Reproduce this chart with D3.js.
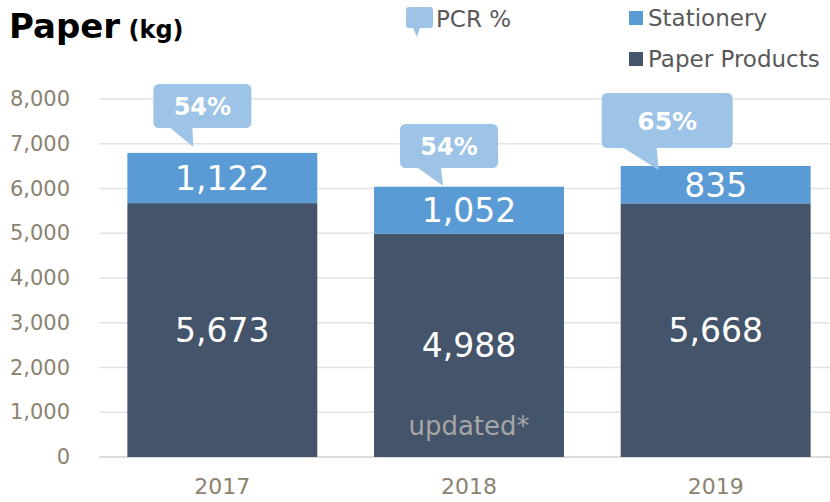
<!DOCTYPE html>
<html><head><meta charset="utf-8">
<script src="https://cdn.jsdelivr.net/npm/d3@7"></script>
<style>body{margin:0;background:#fff}svg{display:block}</style>
</head><body><svg id="c" width="830" height="502"></svg>
<script>
const years = ["2017","2018","2019"];
const paperProducts = [5673, 4988, 5668];
const stationery = [1122, 1052, 835];
const pcr = ["54%","54%","65%"];
const yTicks = [0,1000,2000,3000,4000,5000,6000,7000,8000];
const seriesNames = ["Stationery","Paper Products"];
const pcrLabel = "PCR %";
const note = "updated*";

const FONT = "'DejaVu Sans', sans-serif";
const cDark = "#44546A", cLight = "#5B9BD5", cBubble = "#9DC3E6", cAxis = "#8C8270";
const svg = d3.select("#c");

const x = d3.scaleBand().domain(years).range([99, 839]).paddingInner(0.23).paddingOuter(0.115);
const y = d3.scaleLinear().domain([0, 8000]).range([457, 99]);

// gridlines
svg.append("g").selectAll("line").data(yTicks).join("line")
  .attr("x1", 99).attr("x2", 830)
  .attr("y1", d => y(d)).attr("y2", d => y(d))
  .attr("stroke", d => d === 0 ? "#D0D0D0" : "#E3E3E3").attr("stroke-width", 1.5);

// y axis labels
const yAxis = d3.axisLeft(y).tickValues(yTicks).tickFormat(d3.format(",")).tickSize(0).tickPadding(0);
const ya = svg.append("g").attr("transform", "translate(70,0)").call(yAxis);
ya.select(".domain").remove();
ya.selectAll("text").attr("font-family", FONT).attr("font-size", 21).attr("fill", cAxis);

// x axis labels
const xAxis = d3.axisBottom(x).tickSize(0).tickPadding(0);
const xa = svg.append("g").attr("transform", "translate(0,478)").call(xAxis);
xa.select(".domain").remove();
xa.selectAll("text").attr("font-family", FONT).attr("font-size", 22).attr("fill", cAxis);

// bars
const data = years.map((yr, i) => ({yr, pp: paperProducts[i], st: stationery[i], pcr: pcr[i]}));
const g = svg.append("g");
g.selectAll(".pp").data(data).join("rect")
  .attr("x", d => x(d.yr)).attr("width", x.bandwidth())
  .attr("y", d => y(d.pp)).attr("height", d => y(0) - y(d.pp)).attr("fill", cDark);
g.selectAll(".st").data(data).join("rect")
  .attr("x", d => x(d.yr)).attr("width", x.bandwidth())
  .attr("y", d => y(d.pp + d.st)).attr("height", d => y(d.pp) - y(d.pp + d.st)).attr("fill", cLight);

// value labels
g.selectAll(".ppl").data(data).join("text")
  .attr("x", d => x(d.yr) + x.bandwidth()/2).attr("y", d => y(d.pp/2) + 12)
  .attr("text-anchor", "middle").attr("font-family", FONT).attr("font-size", 33).attr("fill", "#fff")
  .text(d => d3.format(",")(d.pp));
g.selectAll(".stl").data(data).join("text")
  .attr("x", d => x(d.yr) + x.bandwidth()/2).attr("y", d => y(d.pp + d.st/2) + 12)
  .attr("text-anchor", "middle").attr("font-family", FONT).attr("font-size", 33).attr("fill", "#fff")
  .text(d => d3.format(",")(d.st));

// note in 2018 bar
g.append("text").attr("x", x("2018") + x.bandwidth()/2).attr("y", 435)
  .attr("text-anchor", "middle").attr("font-family", FONT).attr("font-size", 26).attr("fill", "#A6A6A6")
  .text(note);

// bubbles (offsets relative to bar left/top)
const bubbleGeom = [
  {dx: 26, w: 98, top: 84, h: 44, t1: 17, t2: 39, tipx: 40, tipgap: 6, fs: 24},
  {dx: 26, w: 98, top: 124, h: 44, t1: 18, t2: 41, tipx: 43, tipgap: 1, fs: 24},
  {dx: -19, w: 131, top: 93, h: 55, t1: 22, t2: 55, tipx: 57, tipgap: -4, fs: 25}
];
function bubblePath(x0, y0, w, h, r, t1, t2, tx, ty) {
  return `M${x0+r},${y0} H${x0+w-r} Q${x0+w},${y0} ${x0+w},${y0+r} V${y0+h-r} Q${x0+w},${y0+h} ${x0+w-r},${y0+h}`
    + ` H${x0+t2} L${tx},${ty} L${x0+t1},${y0+h} H${x0+r} Q${x0},${y0+h} ${x0},${y0+h-r} V${y0+r} Q${x0},${y0} ${x0+r},${y0} Z`;
}
data.forEach((d, i) => {
  const b = bubbleGeom[i];
  const bx = x(d.yr) + b.dx;
  const tipY = y(d.pp + d.st) - b.tipgap;
  g.append("path").attr("d", bubblePath(bx, b.top, b.w, b.h, 6, b.t1, b.t2, bx + b.tipx, tipY)).attr("fill", cBubble);
  g.append("text").attr("x", bx + b.w/2).attr("y", b.top + b.h/2 + 9)
    .attr("text-anchor", "middle").attr("font-family", FONT).attr("font-weight", "bold")
    .attr("font-size", b.fs).attr("fill", "#fff").text(d.pcr);
});

// title
const t = svg.append("text").attr("x", 9).attr("y", 38).attr("font-family", FONT).attr("font-weight", "bold").attr("fill", "#000");
t.append("tspan").attr("font-size", 34).text("Paper");
t.append("tspan").attr("font-size", 24).text(" (kg)");

// legend
svg.append("path").attr("d", bubblePath(406, 7, 27, 21, 3, 7, 14, 417, 37)).attr("fill", cBubble);
svg.append("text").attr("x", 436).attr("y", 27).attr("font-family", FONT).attr("font-size", 23).attr("fill", "#595959").text(pcrLabel);
const legCols = [cLight, cDark];
seriesNames.forEach((n, i) => {
  svg.append("rect").attr("x", 629).attr("y", 11 + i*41).attr("width", 14).attr("height", 14).attr("fill", legCols[i]);
  svg.append("text").attr("x", 648).attr("y", 26 + i*41).attr("font-family", FONT).attr("font-size", 23).attr("fill", "#595959").text(n);
});
</script></body></html>
